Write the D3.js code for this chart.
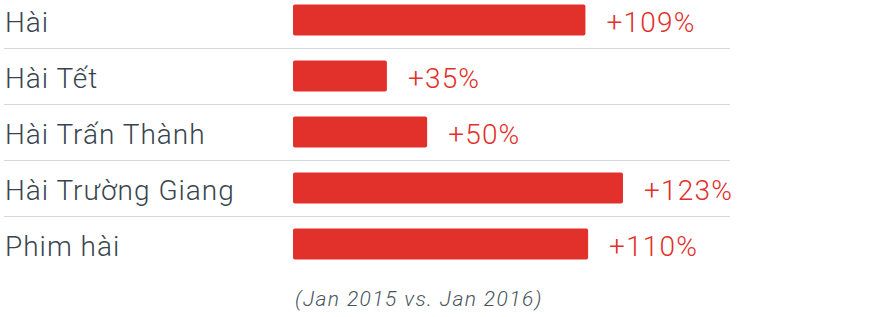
<!DOCTYPE html>
<html>
<head>
<meta charset="utf-8">
<script src="https://cdn.jsdelivr.net/npm/d3@7"></script>
<style>
  body { margin: 0; background: #fff; }
  text { font-family: Roboto, "Noto Sans", sans-serif; font-weight: 300; }
</style>
</head>
<body>
<div id="chart"></div>
<script>
// Data
const categories = ["Hài", "Hài Tết", "Hài Trấn Thành", "Hài Trường Giang", "Phim hài"];
const growth = [109, 35, 50, 123, 110];
const note = "(Jan 2015 vs. Jan 2016)";

// Dimensions
const W = 870, H = 317;
const barX = 293;
const rowTop = -8, rowStep = 56;

const svg = d3.select("#chart")
  .append("svg")
  .attr("width", W)
  .attr("height", H);

// Scales
const x = d3.scaleLinear().domain([0, 123]).range([0, 330]);
const y = d3.scaleBand()
  .domain(categories)
  .range([rowTop, rowTop + rowStep * categories.length])
  .paddingInner(0.45)
  .paddingOuter(0.225);

const data = categories.map((c, i) => ({ cat: c, value: growth[i] }));

// Separators between rows
const rowEnd = d => y(d) - y.step() * y.paddingOuter() + y.step();
svg.selectAll(".sep")
  .data(categories.slice(0, -1))
  .enter()
  .append("line")
  .attr("class", "sep")
  .attr("x1", 4)
  .attr("x2", 730)
  .attr("y1", d => Math.round(rowEnd(d)) + 0.5)
  .attr("y2", d => Math.round(rowEnd(d)) + 0.5)
  .attr("stroke", "#d3d9de")
  .attr("stroke-width", 1);

// Category labels
svg.selectAll(".cat")
  .data(data)
  .enter()
  .append("text")
  .attr("class", "cat")
  .attr("x", 5)
  .attr("y", d => y(d.cat) + y.bandwidth() / 2 + 12)
  .attr("font-size", "28px")
  .attr("letter-spacing", "1px")
  .attr("fill", "#38454e")
  .text(d => d.cat);

// Bars
svg.selectAll(".bar")
  .data(data)
  .enter()
  .append("rect")
  .attr("class", "bar")
  .attr("x", barX)
  .attr("y", d => y(d.cat))
  .attr("width", d => x(d.value))
  .attr("height", y.bandwidth())
  .attr("rx", 2)
  .attr("fill", "#e2302b");

// Value labels
svg.selectAll(".val")
  .data(data)
  .enter()
  .append("text")
  .attr("class", "val")
  .attr("x", d => barX + x(d.value) + 21)
  .attr("y", d => y(d.cat) + y.bandwidth() / 2 + 12)
  .attr("font-size", "28px")
  .attr("letter-spacing", "1.2px")
  .attr("fill", "#e2302b")
  .text(d => "+" + d.value + "%");

// Footnote
svg.append("text")
  .attr("x", barX + 2)
  .attr("y", 306)
  .attr("font-size", "21px")
  .attr("font-style", "italic")
  .attr("letter-spacing", "1.4px")
  .attr("fill", "#46535c")
  .text(note);
</script>
</body>
</html>
